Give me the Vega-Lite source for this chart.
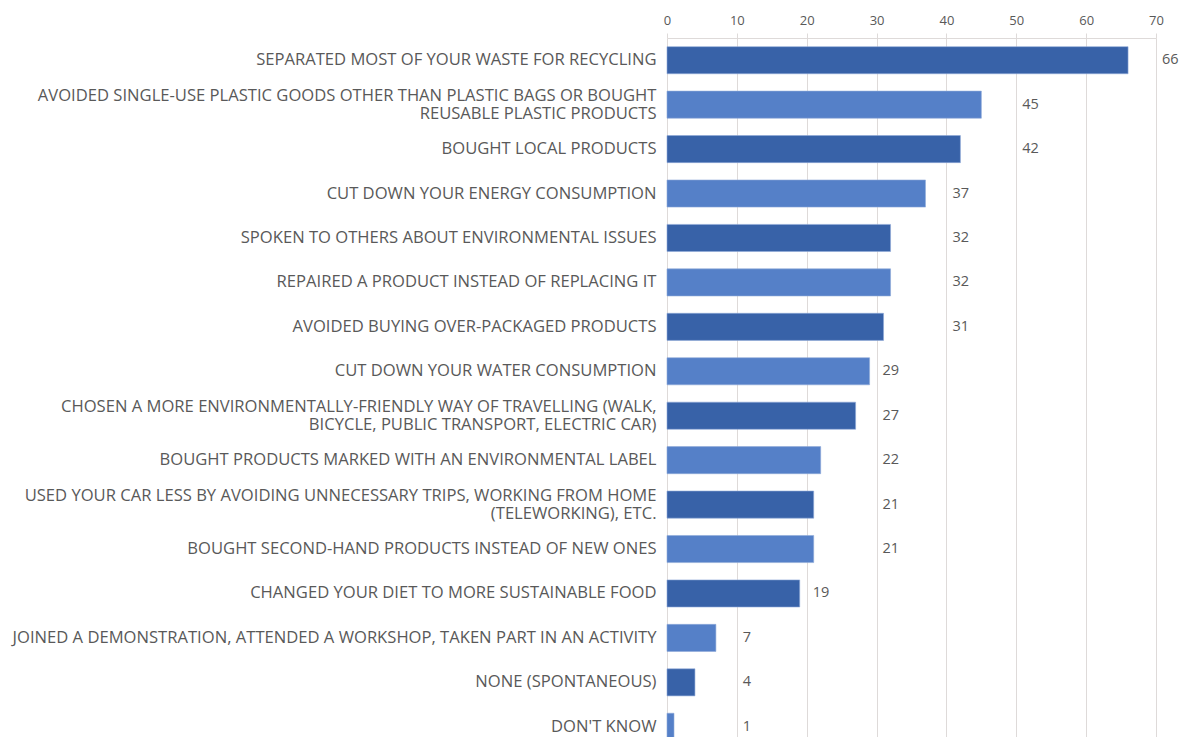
{
  "$schema": "https://vega.github.io/schema/vega-lite/v6.json",
  "width": 489,
  "height": 711,
  "autosize": "none",
  "padding": {"left": 667, "top": 38, "right": 25, "bottom": 0},
  "background": "white",
  "config": {"view": {"stroke": null}, "font": "Open Sans"},
  "data": {
    "values": [
      {"activity": "SEPARATED MOST OF YOUR WASTE FOR RECYCLING", "value": 66},
      {"activity": "AVOIDED SINGLE-USE PLASTIC GOODS OTHER THAN PLASTIC BAGS OR BOUGHT|REUSABLE PLASTIC PRODUCTS", "value": 45},
      {"activity": "BOUGHT LOCAL PRODUCTS", "value": 42},
      {"activity": "CUT DOWN YOUR ENERGY CONSUMPTION", "value": 37},
      {"activity": "SPOKEN TO OTHERS ABOUT ENVIRONMENTAL ISSUES", "value": 32},
      {"activity": "REPAIRED A PRODUCT INSTEAD OF REPLACING IT", "value": 32},
      {"activity": "AVOIDED BUYING OVER-PACKAGED PRODUCTS", "value": 31},
      {"activity": "CUT DOWN YOUR WATER CONSUMPTION", "value": 29},
      {"activity": "CHOSEN A MORE ENVIRONMENTALLY-FRIENDLY WAY OF TRAVELLING (WALK,|BICYCLE, PUBLIC TRANSPORT, ELECTRIC CAR)", "value": 27},
      {"activity": "BOUGHT PRODUCTS MARKED WITH AN ENVIRONMENTAL LABEL", "value": 22},
      {"activity": "USED YOUR CAR LESS BY AVOIDING UNNECESSARY TRIPS, WORKING FROM HOME|(TELEWORKING), ETC.", "value": 21},
      {"activity": "BOUGHT SECOND-HAND PRODUCTS INSTEAD OF NEW ONES", "value": 21},
      {"activity": "CHANGED YOUR DIET TO MORE SUSTAINABLE FOOD", "value": 19},
      {"activity": "JOINED A DEMONSTRATION, ATTENDED A WORKSHOP, TAKEN PART IN AN ACTIVITY", "value": 7},
      {"activity": "NONE (SPONTANEOUS)", "value": 4},
      {"activity": "DON'T KNOW", "value": 1}
    ]
  },
  "transform": [
    {"window": [{"op": "row_number", "as": "rank"}]},
    {"calculate": "datum.rank % 2 == 1 ? 'odd' : 'even'", "as": "parity"},
    {"calculate": "ceil(datum.value / 10) * 10", "as": "labelAt"}
  ],
  "encoding": {
    "y": {
      "field": "activity",
      "type": "nominal",
      "sort": null,
      "title": null,
      "scale": {"paddingInner": 0.39, "paddingOuter": 0.195},
      "axis": {
        "ticks": false,
        "domain": false,
        "labelExpr": "split(datum.label, '|')",
        "labelFontSize": 16.6,
        "labelColor": "#595959",
        "labelPadding": 11,
        "labelLimit": 700,
        "labelLineHeight": 18.5,
        "labelOffset": {"condition": {"test": "indexof(datum.value, '|') >= 0", "value": -9}, "value": 0}
      }
    }
  },
  "layer": [
    {
      "mark": {"type": "bar", "stroke": "#8fa9d9", "strokeWidth": 0.6},
      "encoding": {
        "x": {
          "field": "value",
          "type": "quantitative",
          "title": null,
          "scale": {"domain": [0, 70], "nice": false},
          "axis": {
            "orient": "top",
            "values": [0, 10, 20, 30, 40, 50, 60, 70],
            "grid": true,
            "gridColor": "#dedad9",
            "gridWidth": 1,
            "domainColor": "#dedad9",
            "tickColor": "#dedad9",
            "tickSize": 5,
            "labelPadding": 6,
            "labelFontSize": 13,
            "labelColor": "#595959",
            "labelFlush": false
          }
        },
        "color": {
          "field": "parity",
          "type": "nominal",
          "legend": null,
          "scale": {"domain": ["odd", "even"], "range": ["#3862A8", "#5580C8"]}
        }
      }
    },
    {
      "mark": {"type": "text", "align": "left", "dx": 6, "fontSize": 14.5, "color": "#595959"},
      "encoding": {
        "x": {"field": "labelAt", "type": "quantitative"},
        "text": {"field": "value", "type": "quantitative"}
      }
    }
  ]
}
